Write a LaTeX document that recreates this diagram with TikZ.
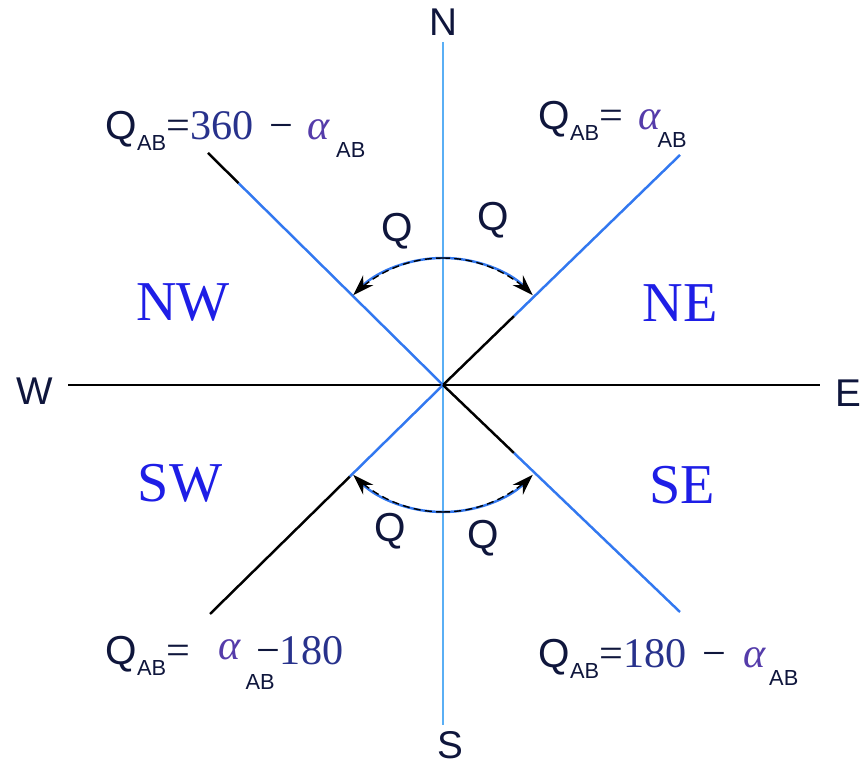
\documentclass[tikz,border=0pt]{standalone}
\usepackage{fontspec}
\setmainfont{Liberation Sans}
\newfontfamily\serif{Liberation Serif}
\usetikzlibrary{arrows.meta,calc}
\definecolor{txt}{RGB}{15,22,60}
\definecolor{num}{RGB}{40,50,140}
\definecolor{alf}{RGB}{85,60,170}
\definecolor{lineblue}{RGB}{50,120,240}
\definecolor{nsblue}{RGB}{90,175,245}
\definecolor{zone}{RGB}{30,30,230}
% subscripts and the angle symbol
\newcommand{\qab}{Q\raisebox{-3pt}{\fontsize{6.2}{7}\selectfont AB}}
\newcommand{\alab}{{\color{alf}\serif\itshape α}}
\newcommand{\lowab}{\raisebox{-5pt}{\fontsize{6.2}{7}\selectfont AB}}
\begin{document}
\begin{tikzpicture}[x=0.01cm,y=-0.01cm,
  axis/.style={line width=0.6pt},
  diag/.style={line width=0.7pt},
  angarc/.style={line width=0.7pt,draw=lineblue,-{Stealth[color=black,length=6pt,width=4pt]}},
  arcdash/.style={line width=0.4pt,black,dash pattern=on 2pt off 1.2pt},
  dir/.style={font=\fontsize{11}{13}\selectfont,text=txt,inner sep=0pt},
  zonelab/.style={font=\serif\fontsize{16}{18}\selectfont,text=zone,inner sep=0pt},
  qlab/.style={font=\fontsize{11.5}{14}\selectfont,text=txt,inner sep=0pt},
  formula/.style={font=\fontsize{11.5}{14}\selectfont,text=txt,inner sep=0pt,anchor=base west}]
\useasboundingbox (0,0) rectangle (864,768);
% axes
\coordinate (O) at (443,385);
\coordinate (n) at (443,42);
\coordinate (s) at (443,725);
\coordinate (w) at (68,385);
\coordinate (e) at (820,385);
\coordinate (nw) at (208,153);
\coordinate (ne) at (680,155);
\coordinate (sw) at (210,614);
\coordinate (se) at (680,612);
\draw[axis] (w) -- (e);
\draw[axis,nsblue] (n) -- (s);
% diagonals
\draw[diag,lineblue] (O) -- ($(O)!0.87!(nw)$);
\draw[diag] ($(O)!0.87!(nw)$) -- (nw);
\draw[diag] (O) -- ($(O)!0.3!(ne)$);
\draw[diag,lineblue] ($(O)!0.3!(ne)$) -- (ne);
\draw[diag,lineblue] (O) -- ($(O)!0.4!(sw)$);
\draw[diag] ($(O)!0.4!(sw)$) -- (sw);
\draw[diag] (O) -- ($(O)!0.3!(se)$);
\draw[diag,lineblue] ($(O)!0.3!(se)$) -- (se);
% angle arcs
\coordinate (tn) at (443,258);
\coordinate (bn) at (443,512);
\draw[angarc] (tn) arc[start angle=-90,end angle=-135,radius=127];
\draw[angarc] (tn) arc[start angle=-90,end angle=-45,radius=127];
\draw[angarc] (bn) arc[start angle=90,end angle=135,radius=127];
\draw[angarc] (bn) arc[start angle=90,end angle=45,radius=127];
\draw[arcdash] (tn) arc[start angle=-90,end angle=-132,radius=127];
\draw[arcdash] (tn) arc[start angle=-90,end angle=-48,radius=127];
\draw[arcdash] (bn) arc[start angle=90,end angle=132,radius=127];
\draw[arcdash] (bn) arc[start angle=90,end angle=48,radius=127];
% labels
\node[dir] (ln) at (443,22) {N};
\node[dir] (ls) at (450,745) {S};
\node[dir] (lw) at (35,391) {W};
\node[dir] (le) at (848,393) {E};
\node[zonelab] (znw) at (183,303) {NW};
\node[zonelab] (zne) at (680,303) {NE};
\node[zonelab] (zsw) at (180,483) {SW};
\node[zonelab] (zse) at (682,485) {SE};
\node[qlab] (q1) at (397,231) {Q};
\node[qlab] (q2) at (493,220) {Q};
\node[qlab] (q3) at (390,531) {Q};
\node[qlab] (q4) at (483,538) {Q};
% bearing formulas
\node[formula] (fnw) at (105,140) {\qab{\serif\fontsize{12}{14}\selectfont=\textcolor{num}{360}\hspace{4.5pt}−\hspace{4pt}\alab\hspace{2pt}}\lowab};
\node[formula] (fne) at (538,130) {\qab{\serif\fontsize{12}{14}\selectfont=\hspace{4.5pt}\alab\hspace{-1pt}}\lowab};
\node[formula] (fsw) at (105,665) {\qab{\serif\fontsize{12}{14}\selectfont=\hspace{8pt}\raisebox{1.5pt}{\alab}\hspace{1.5pt}}\rlap{\raisebox{-7pt}{\fontsize{6.2}{7}\selectfont AB}}{\serif\fontsize{12}{14}\selectfont\hspace{3pt}−\textcolor{num}{180}}};
\node[formula] (fse) at (538,668) {\qab{\serif\fontsize{12}{14}\selectfont=\textcolor{num}{180}\hspace{4.5pt}−\hspace{5pt}\alab\hspace{1pt}}\lowab};
\end{tikzpicture}
\end{document}
